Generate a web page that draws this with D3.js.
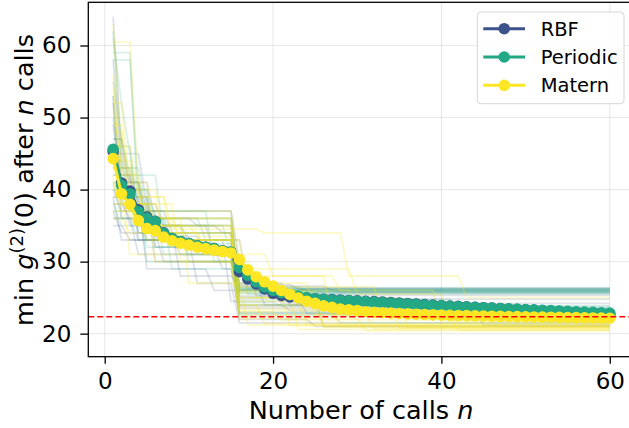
<!DOCTYPE html>
<html><head><meta charset="utf-8">
<script src="https://cdn.jsdelivr.net/npm/d3@7"></script>
<style>body{margin:0;background:#fff}svg{display:block}text{font-family:"DejaVu Sans",sans-serif;fill:#000}</style>
</head><body><svg id="c" width="629" height="428"></svg>
<script>
const calls = d3.range(1, 61);
const xTicks = [0, 20, 40, 60];
const yTicks = [20, 30, 40, 50, 60];
const kernels = ["RBF", "Periodic", "Matern"];
const colors = ["#3b528b", "#22a884", "#fde725"];
const reference = 22.36;

const rbfMean = [45.3,40.9,39.8,37.2,36.2,35.6,34.0,33.2,32.8,32.5,32.2,32.0,31.8,31.5,31.3,28.6,27.6,26.9,26.2,25.6,25.3,25.1,25.0,24.9,24.85,24.78,24.72,24.66,24.6,24.55,24.5,24.45,24.4,24.33,24.26,24.19,24.12,24.05,23.98,23.9,23.84,23.78,23.72,23.66,23.6,23.54,23.48,23.42,23.36,23.3,23.24,23.18,23.12,23.06,23.0,22.94,22.88,22.82,22.76,22.7];
const periodicMean = [45.6,40.6,39.4,36.9,36.0,35.55,33.9,33.2,32.8,32.5,32.2,32.0,31.8,31.5,31.3,29.2,28.1,27.2,26.5,26.0,25.7,25.4,25.2,25.0,24.85,24.75,24.65,24.6,24.55,24.5,24.45,24.38,24.31,24.24,24.17,24.1,24.03,23.96,23.9,23.85,23.8,23.75,23.7,23.65,23.6,23.55,23.5,23.45,23.4,23.35,23.3,23.25,23.2,23.15,23.1,23.05,23.0,22.95,22.9,22.85];
const maternMean = [44.3,39.4,37.95,35.7,34.6,34.3,33.4,32.9,32.55,32.3,32.0,31.8,31.6,31.4,31.2,30.3,28.85,27.9,27.2,26.6,26.0,25.45,24.95,24.5,24.2,23.85,23.65,23.4,23.3,23.2,23.05,22.95,22.9,22.85,22.8,22.75,22.7,22.65,22.6,22.58,22.55,22.52,22.5,22.47,22.45,22.42,22.4,22.38,22.36,22.34,22.32,22.3,22.28,22.26,22.24,22.22,22.2,22.18,22.16,22.14];

// individual runs: [call number where a new best was found, best value]
const rbfRuns = [
 [[1,38],[3,36],[5,33],[9,31],[16,24],[22,23.2],[30,22.5]],
 [[1,44],[2,40],[4,34],[7,30],[16,26],[20,25.7]],
 [[1,52],[2,36],[6,33.5],[12,32],[16,22],[25,21]],
 [[1,41],[5,35],[10,33],[17,27],[19,24],[35,23.5]],
 [[1,36],[4,31],[16,23.5],[40,22.6]],
 [[1,47],[3,39],[5,29],[13,26],[21,24.2]],
 [[1,40],[2,37],[8,34],[16,25],[24,22.8],[45,21.2]],
 [[1,58],[2,42],[4,36],[11,35],[16,28],[18,26],[28,25.8]],
 [[1,43],[4,38],[6,30],[16,27],[22,24],[33,23]],
 [[1,35],[3,33],[15,24.5],[26,21]],
 [[1,49],[2,41],[5,37],[16,30],[17,26.3]],
 [[1,39],[6,32],[14,29],[16,22.8],[50,22.4]],
 [[1,64],[2,45],[3,41],[6,36],[16,25.2],[30,24.8]],
 [[1,37],[2,34],[9,28],[16,26.8],[23,26.2]],
 [[1,42],[4,33],[11,27],[16,21.5]],
 [[1,53],[2,39],[3,35],[13,31],[16,23.8],[38,23.4]],
 [[1,45],[5,38],[7,35],[14,34],[16,29],[18,25.3]],
 [[1,39],[2,33],[16,26.6],[27,26]]
];
const periodicRuns = [
 [[1,62],[2,44],[3,38],[6,34],[16,26],[25,25.8]],
 [[1,45],[2,40],[5,33],[16,26.2]],
 [[1,59],[4,36],[8,33],[16,24],[30,23.6]],
 [[1,42],[3,37],[7,31],[16,26.4]],
 [[1,38],[2,35],[10,30],[16,22.5],[38,22.2]],
 [[1,55],[2,47],[3,41],[5,35],[16,25.9]],
 [[1,46],[4,34],[9,32.5],[16,27],[20,26]],
 [[1,40],[6,36],[12,33],[16,23],[28,21.5]],
 [[1,50],[2,38],[5,30],[17,25.5]],
 [[1,44],[3,39],[6,35],[15,31],[16,24.8],[42,23.8]],
 [[1,61],[2,52],[3,45],[4,37],[16,26.1]],
 [[1,37],[5,32],[16,25.6]],
 [[1,58],[4,40],[5,36],[16,26.3],[19,26]],
 [[1,41],[2,36],[8,29],[16,25.7]],
 [[1,47],[3,42],[7,34],[16,26.5],[24,25.9]],
 [[1,36],[4,33],[10,31],[16,22.8],[47,22.5]],
 [[1,53],[2,40],[6,32],[16,24.3],[21,23.9]],
 [[1,43],[5,37],[13,30],[16,26.1]]
];
const maternRuns = [
 [[1,42],[2,37],[5,33],[16,24],[26,21]],
 [[1,48],[3,36],[9,33],[17,25],[23,20.6]],
 [[1,39],[4,35],[16,28],[27,22.4]],
 [[1,56],[2,38],[7,34],[16,26],[30,23],[44,22.2]],
 [[1,44],[2,41],[6,33],[14,30],[16,23.5],[35,20.8]],
 [[1,36],[3,34],[12,31],[20,28],[28,26],[40,21.6]],
 [[1,51],[2,43],[4,35],[16,24.5],[24,21.3]],
 [[1,40],[5,35],[10,32],[16,22.1],[31,20.4]],
 [[1,46],[4,39],[8,34.5],[19,34],[29,28],[43,25]],
 [[1,38],[6,30],[16,23],[21,21.9]],
 [[1,60.5],[4,40],[7,33],[16,26.5],[33,22.5]],
 [[1,43],[3,37],[16,30],[18,25],[36,20.9]],
 [[1,63],[2,44],[4,36],[16,25],[22,21.1]],
 [[1,40],[3,31],[16,24],[19,21.4]],
 [[1,45],[2,39],[8,33],[16,27],[25,22.7],[32,20.7]],
 [[1,37],[4,35],[11,33.5],[16,29],[30,25.5],[41,21.8]],
 [[1,54],[2,42],[5,36],[16,23.2],[28,21]],
 [[1,49],[3,38],[9,30],[16,22.6],[42,20.5]],
 [[1,41],[2,38],[6,36],[10,27],[17,21.2]],
 [[1,52],[3,40],[5,34],[16,25.8],[26,20.9]]
];

const means = [rbfMean, periodicMean, maternMean];
const runs = [rbfRuns, periodicRuns, maternRuns];

const svg = d3.select("#c");
const x = d3.scaleLinear().domain([-1.95, 62.95]).range([88.3, 634.6]);
const y = d3.scaleLinear().domain([16.8, 66.0]).range([356.7, 2.3]);
const L = 88.3, R = 634.6, T = 2.3, B = 356.7;

svg.append("defs").append("clipPath").attr("id","clip")
  .append("rect").attr("x",L).attr("y",T).attr("width",R-L).attr("height",B-T);

// grid
const grid = svg.append("g");
grid.selectAll("line.gx").data(xTicks).join("line")
  .attr("x1",d=>x(d)).attr("x2",d=>x(d)).attr("y1",T).attr("y2",B)
  .attr("stroke","#b0b0b0").attr("stroke-opacity",0.3).attr("stroke-width",1);
grid.selectAll("line.gy").data(yTicks).join("line")
  .attr("y1",d=>y(d)).attr("y2",d=>y(d)).attr("x1",L).attr("x2",R)
  .attr("stroke","#b0b0b0").attr("stroke-opacity",0.3).attr("stroke-width",1);

const plot = svg.append("g").attr("clip-path","url(#clip)");
const line = d3.line().x((d,i)=>x(calls[i])).y(d=>y(d));

function expand(cp){
  return calls.map(n=>{ let v=cp[0][1]; for(const [k,val] of cp){ if(k<=n) v=val; } return v; });
}

runs.forEach((set,k)=>{
  plot.append("g").selectAll("path").data(set.map(expand)).join("path")
    .attr("d",line).attr("fill","none").attr("stroke",colors[k])
    .attr("stroke-width",1.8).attr("stroke-opacity",k===2?0.25:0.17);
});

means.forEach((m,k)=>{
  const g = plot.append("g");
  g.append("path").datum(m).attr("d",line).attr("fill","none")
    .attr("stroke",colors[k]).attr("stroke-width",3);
  g.selectAll("circle").data(m).join("circle")
    .attr("cx",(d,i)=>x(calls[i])).attr("cy",d=>y(d)).attr("r",5.8)
    .attr("fill",colors[k]);
});

// reference line
plot.append("line").attr("x1",L).attr("x2",R).attr("y1",y(reference)).attr("y2",y(reference))
  .attr("stroke","red").attr("stroke-width",1.5).attr("stroke-dasharray","6,3");

// axes
const xAxis = svg.append("g").attr("transform",`translate(0,${B})`)
  .call(d3.axisBottom(x).tickValues(xTicks).tickSize(7).tickPadding(9).tickFormat(d3.format("d")));
const yAxis = svg.append("g").attr("transform",`translate(${L},0)`)
  .call(d3.axisLeft(y).tickValues(yTicks).tickSize(8).tickPadding(9).tickFormat(d3.format("d")));
[xAxis,yAxis].forEach(a=>{
  a.select(".domain").remove();
  a.selectAll("line").attr("stroke","#000").attr("stroke-width",1.3);
  a.selectAll("text").style("font-size","23px").attr("fill","#000");
});
// spines
svg.append("rect").attr("x",L).attr("y",T).attr("width",R-L).attr("height",B-T)
  .attr("fill","none").attr("stroke","#000").attr("stroke-width",1.3);

// labels
svg.append("text").attr("x",361).attr("y",419).attr("text-anchor","middle")
  .style("font-size","25.5px")
  .html('Number of calls <tspan font-style="italic">n</tspan>');
const yl = svg.append("text").attr("transform","translate(33,180) rotate(-90)")
  .attr("text-anchor","middle").style("font-size","25.5px");
yl.append("tspan").text("min ");
yl.append("tspan").attr("font-style","italic").text("g");
yl.append("tspan").attr("dy",-10).style("font-size","18px").text("(2)");
yl.append("tspan").attr("dy",10).text("(0) after ");
yl.append("tspan").attr("font-style","italic").text("n");
yl.append("tspan").text(" calls");

// legend
const lg = svg.append("g");
lg.append("rect").attr("x",477.3).attr("y",12).attr("width",146.7).attr("height",91.7)
  .attr("rx",3.5).attr("fill","#fff").attr("fill-opacity",0.8)
  .attr("stroke","#d6d6d6").attr("stroke-width",1);
kernels.forEach((name,k)=>{
  const cy = 28.7 + k*28.3;
  lg.append("line").attr("x1",483.3).attr("x2",525).attr("y1",cy).attr("y2",cy)
    .attr("stroke",colors[k]).attr("stroke-width",3);
  lg.append("circle").attr("cx",504.2).attr("cy",cy).attr("r",5.8).attr("fill",colors[k]);
  lg.append("text").attr("x",540.7).attr("y",cy).attr("dy","0.36em")
    .style("font-size","19.5px").text(name);
});
</script></body></html>
